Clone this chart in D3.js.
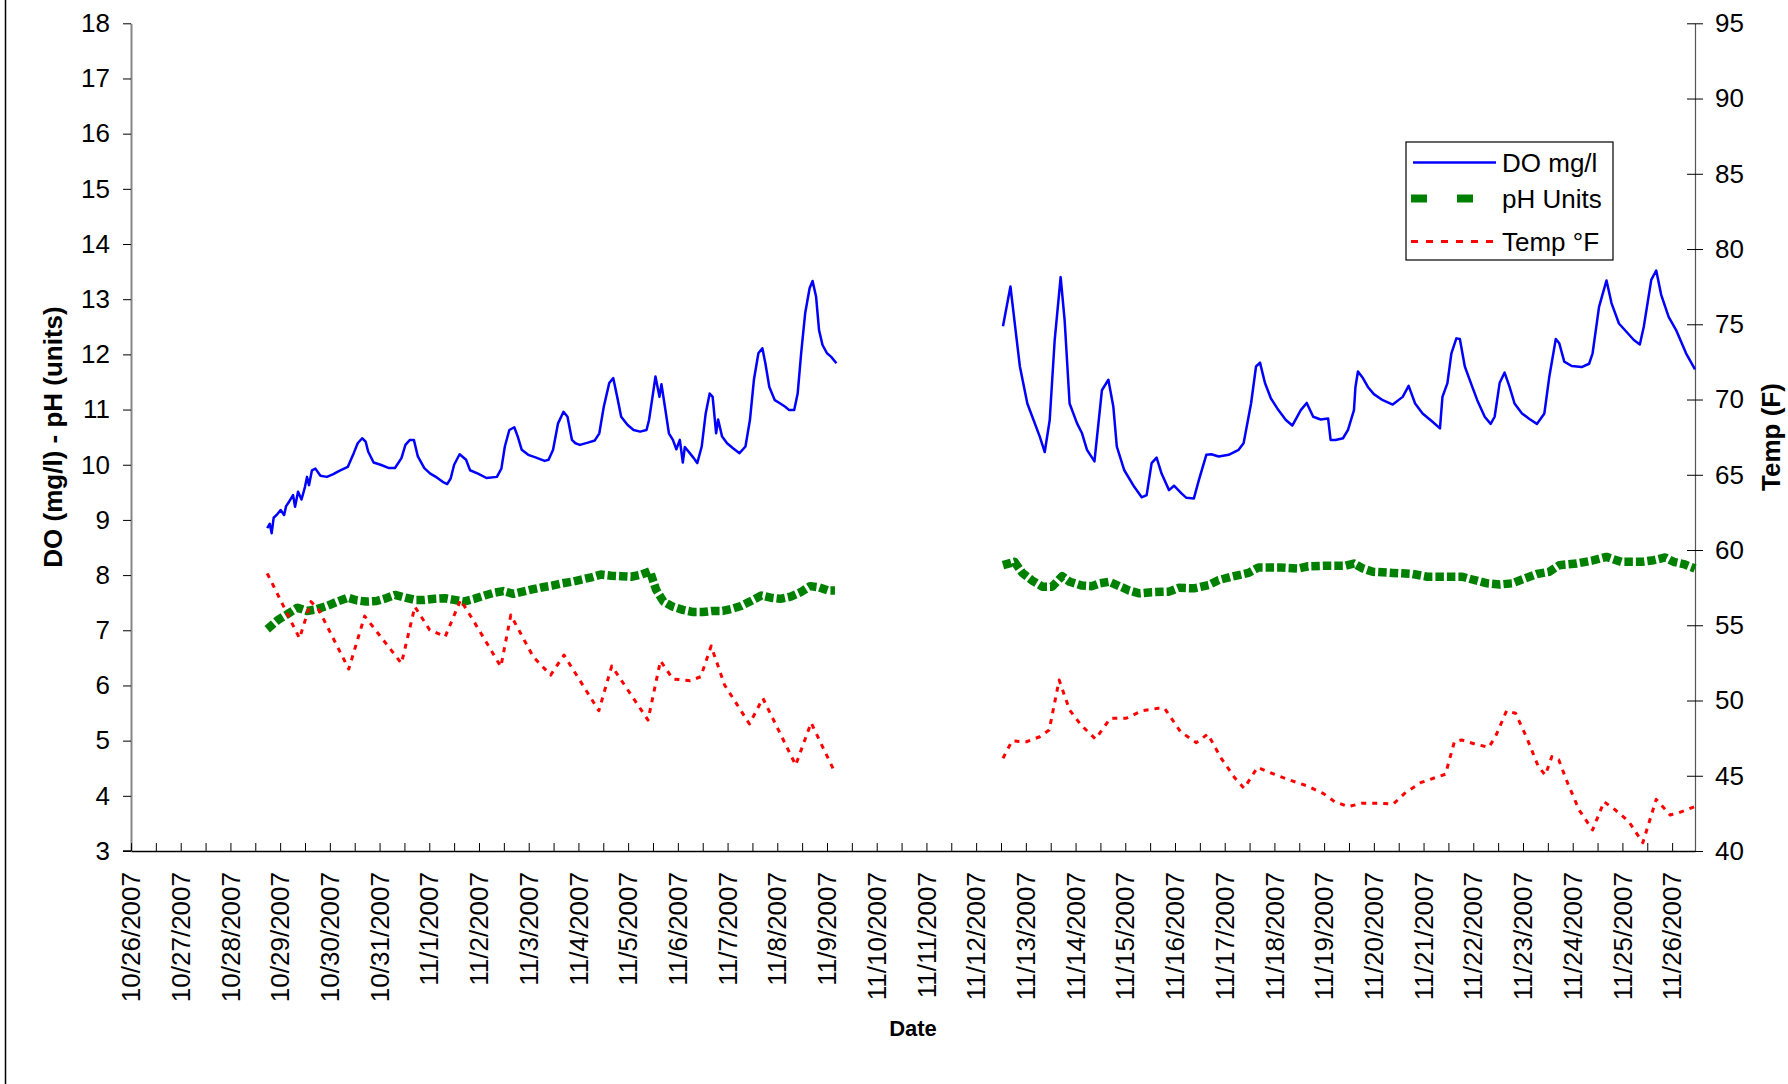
<!DOCTYPE html>
<html>
<head>
<meta charset="utf-8">
<script src="https://cdn.jsdelivr.net/npm/d3@7"></script>
<style>
body { margin: 0; background: #fff; }
svg text { font-family: "Liberation Sans", Arial, sans-serif; fill: #000; }
</style>
</head>
<body>
<script>
var w = 1788;
var h = 1084;

//Data: [days since 10/26/2007 00:00, value]
var doFirst = [
    [2.74,8.85],[2.79,8.93],[2.83,8.76],[2.87,9.04],[2.93,9.09],[3.01,9.18],[3.08,9.09],[3.12,9.25],
    [3.18,9.33],[3.26,9.45],[3.30,9.24],[3.36,9.51],[3.43,9.37],[3.50,9.60],[3.54,9.78],[3.58,9.63],
    [3.64,9.90],[3.71,9.93],[3.81,9.80],[3.94,9.78],[4.07,9.83],[4.19,9.89],[4.36,9.96],[4.48,10.21],
    [4.56,10.39],[4.65,10.48],[4.72,10.42],[4.77,10.24],[4.88,10.04],[5.02,10.00],[5.19,9.94],[5.31,9.94],
    [5.44,10.12],[5.52,10.36],[5.61,10.45],[5.69,10.45],[5.77,10.15],[5.90,9.94],[6.02,9.84],[6.15,9.77],
    [6.27,9.69],[6.36,9.65],[6.43,9.75],[6.50,10.00],[6.61,10.19],[6.74,10.09],[6.82,9.90],[6.98,9.84],
    [7.15,9.76],[7.36,9.78],[7.45,9.93],[7.52,10.33],[7.61,10.63],[7.71,10.68],[7.78,10.51],[7.86,10.27],
    [7.99,10.18],[8.15,10.13],[8.32,10.07],[8.40,10.09],[8.49,10.27],[8.59,10.75],[8.70,10.96],[8.78,10.87],
    [8.87,10.45],[8.94,10.39],[9.03,10.36],[9.19,10.40],[9.33,10.44],[9.42,10.57],[9.51,11.05],[9.62,11.48],
    [9.70,11.57],[9.78,11.23],[9.86,10.87],[9.99,10.72],[10.11,10.63],[10.24,10.60],[10.37,10.63],[10.42,10.81],
    [10.49,11.23],[10.55,11.60],[10.63,11.23],[10.67,11.46],[10.74,11.05],[10.82,10.57],[10.90,10.45],[10.97,10.28],
    [11.04,10.45],[11.10,10.04],[11.14,10.32],[11.24,10.21],[11.32,10.12],[11.39,10.03],[11.48,10.33],[11.56,10.93],
    [11.64,11.29],[11.70,11.23],[11.77,10.57],[11.81,10.82],[11.89,10.51],[11.99,10.39],[12.11,10.30],[12.24,10.21],
    [12.36,10.33],[12.45,10.81],[12.53,11.54],[12.62,12.02],[12.70,12.11],[12.76,11.84],[12.84,11.41],[12.95,11.17],
    [13.06,11.11],[13.16,11.05],[13.24,10.99],[13.34,10.99],[13.41,11.29],[13.48,12.02],[13.56,12.74],[13.65,13.20],
    [13.71,13.33],[13.78,13.05],[13.84,12.44],[13.91,12.17],[14.00,12.02],[14.08,11.96],[14.19,11.84]
];

var doSecond = [
    [17.54,12.51],[17.69,13.23],[17.84,12.08],[17.88,11.78],[18.03,11.11],[18.13,10.87],[18.28,10.51],[18.38,10.23],
    [18.48,10.81],[18.58,12.26],[18.70,13.40],[18.78,12.62],[18.88,11.11],[19.03,10.75],[19.13,10.57],[19.23,10.27],
    [19.38,10.06],[19.53,11.35],[19.66,11.54],[19.76,11.05],[19.83,10.33],[19.98,9.90],[20.18,9.60],[20.33,9.41],
    [20.43,9.45],[20.53,10.03],[20.63,10.13],[20.73,9.84],[20.88,9.54],[20.98,9.62],[21.13,9.48],[21.23,9.40],
    [21.38,9.39],[21.48,9.72],[21.63,10.18],[21.73,10.19],[21.88,10.15],[22.08,10.18],[22.28,10.27],[22.38,10.39],
    [22.53,11.11],[22.63,11.78],[22.71,11.85],[22.81,11.48],[22.93,11.20],[23.08,10.99],[23.23,10.81],[23.36,10.71],
    [23.53,10.99],[23.65,11.12],[23.78,10.87],[23.93,10.82],[24.08,10.84],[24.13,10.45],[24.23,10.45],[24.38,10.48],
    [24.48,10.63],[24.60,10.99],[24.63,11.41],[24.68,11.69],[24.78,11.57],[24.88,11.41],[25.00,11.28],[25.18,11.17],
    [25.38,11.09],[25.58,11.23],[25.70,11.43],[25.83,11.11],[25.98,10.93],[26.18,10.78],[26.33,10.66],[26.38,11.23],
    [26.48,11.48],[26.56,12.02],[26.66,12.29],[26.73,12.28],[26.83,11.78],[26.98,11.41],[27.08,11.17],[27.23,10.87],
    [27.35,10.74],[27.43,10.87],[27.53,11.48],[27.63,11.67],[27.73,11.41],[27.83,11.11],[27.98,10.93],[28.13,10.83],
    [28.28,10.74],[28.43,10.93],[28.53,11.60],[28.66,12.28],[28.73,12.20],[28.83,11.87],[28.98,11.79],[29.18,11.77],
    [29.33,11.83],[29.40,12.02],[29.53,12.86],[29.68,13.34],[29.78,12.93],[29.93,12.56],[30.08,12.41],[30.23,12.26],
    [30.35,12.18],[30.43,12.50],[30.58,13.35],[30.68,13.52],[30.78,13.08],[30.93,12.68],[31.08,12.44],[31.28,12.02],
    [31.46,11.73]
];

var phFirst = [
    [2.74,7.02],[2.96,7.19],[3.14,7.29],[3.35,7.41],[3.54,7.35],[3.73,7.38],[3.94,7.44],[4.15,7.52],
    [4.36,7.59],[4.55,7.54],[4.73,7.52],[4.94,7.53],[5.13,7.58],[5.31,7.64],[5.52,7.59],[5.72,7.55],
    [5.90,7.55],[6.11,7.57],[6.32,7.58],[6.50,7.55],[6.69,7.52],[6.90,7.57],[7.11,7.63],[7.30,7.68],
    [7.49,7.71],[7.69,7.66],[7.88,7.70],[8.07,7.74],[8.28,7.78],[8.47,7.81],[8.67,7.85],[8.87,7.88],
    [9.06,7.92],[9.26,7.96],[9.45,8.01],[9.66,7.99],[9.86,7.98],[10.06,7.97],[10.27,8.01],[10.44,8.07],
    [10.56,7.74],[10.71,7.52],[10.89,7.43],[11.10,7.37],[11.31,7.33],[11.50,7.33],[11.68,7.35],[11.90,7.35],
    [12.09,7.39],[12.27,7.44],[12.47,7.53],[12.68,7.63],[12.87,7.59],[13.06,7.57],[13.27,7.61],[13.47,7.69],
    [13.66,7.80],[13.84,7.78],[14.03,7.72],[14.16,7.72]
];

var phSecond = [
    [17.54,8.18],[17.77,8.24],[17.93,8.04],[18.13,7.90],[18.33,7.79],[18.53,7.79],[18.73,7.98],[18.88,7.88],
    [19.13,7.81],[19.33,7.80],[19.48,7.85],[19.68,7.88],[19.93,7.78],[20.08,7.72],[20.28,7.67],[20.53,7.69],
    [20.88,7.70],[21.08,7.77],[21.38,7.76],[21.68,7.82],[21.88,7.91],[22.13,7.97],[22.48,8.04],[22.68,8.14],
    [23.08,8.14],[23.48,8.12],[23.68,8.16],[24.08,8.17],[24.43,8.17],[24.60,8.21],[24.78,8.12],[24.98,8.06],
    [25.38,8.04],[25.78,8.02],[26.08,7.97],[26.78,7.97],[26.98,7.92],[27.28,7.85],[27.53,7.83],[27.78,7.85],
    [27.98,7.92],[28.28,8.02],[28.53,8.06],[28.73,8.18],[29.08,8.21],[29.38,8.26],[29.68,8.33],[29.98,8.24],
    [30.38,8.24],[30.63,8.27],[30.86,8.32],[31.03,8.24],[31.23,8.20],[31.46,8.12]
];

var tempFirst = [
    [2.74,58.45],[3.39,54.13],[3.62,56.57],[3.78,56.01],[4.38,52.09],[4.70,55.61],[5.44,52.47],[5.71,56.23],
    [6.01,54.68],[6.17,54.46],[6.32,54.24],[6.63,56.68],[6.86,55.46],[7.44,52.25],[7.64,55.68],[8.09,52.91],
    [8.44,51.69],[8.71,53.02],[9.41,49.32],[9.67,52.29],[10.40,48.70],[10.65,52.64],[10.90,51.43],[11.25,51.32],
    [11.46,51.58],[11.67,53.62],[11.94,51.03],[12.44,48.44],[12.71,50.15],[13.37,45.71],[13.68,48.52],[14.12,45.49]
];

var tempSecond = [
    [17.54,46.16],[17.72,47.31],[18.01,47.26],[18.28,47.59],[18.47,48.04],[18.67,51.36],[18.88,49.37],[19.11,48.37],
    [19.40,47.44],[19.70,48.82],[20.02,48.82],[20.34,49.32],[20.66,49.48],[20.79,49.48],[21.11,47.93],[21.43,47.20],
    [21.66,47.77],[21.93,46.16],[22.21,44.83],[22.39,44.17],[22.66,45.56],[22.98,45.12],[23.30,44.72],[23.66,44.32],
    [23.98,43.83],[24.21,43.28],[24.48,42.95],[24.76,43.17],[25.12,43.17],[25.39,43.12],[25.62,43.83],[25.94,44.54],
    [26.26,44.90],[26.44,45.10],[26.62,47.26],[26.76,47.38],[27.03,47.11],[27.31,46.89],[27.44,47.55],[27.67,49.32],
    [27.85,49.15],[28.08,47.49],[28.31,45.60],[28.45,45.05],[28.58,46.27],[28.72,46.05],[28.90,44.50],[29.13,42.72],
    [29.40,41.40],[29.63,43.28],[29.86,42.72],[30.13,41.95],[30.41,40.55],[30.68,43.43],[30.96,42.39],[31.14,42.55],
    [31.46,42.95]
];

var leftTicks = [3,4,5,6,7,8,9,10,11,12,13,14,15,16,17,18];
var rightTicks = [40,45,50,55,60,65,70,75,80,85,90,95];
var legendNames = ["DO mg/l", "pH Units", "Temp \u00B0F"];

var start = Date.UTC(2007, 9, 26);
function toDate(d) { return new Date(start + d * 864e5); }

//scales
var xScale = d3.scaleUtc()
    .domain([toDate(0), toDate(31.46)])
    .range([131, 1695]);

var yLeft = d3.scaleLinear()
    .domain([3, 18])
    .range([851, 23.3]);

var yRight = d3.scaleLinear()
    .domain([40, 95])
    .range([851, 23.3]);

var svg = d3.select("body")
    .append("svg")
    .attr("width", w)
    .attr("height", h);

//chart area border (only the left edge shows)
svg.append("line")
    .attr("x1", 5.5).attr("x2", 5.5)
    .attr("y1", 0).attr("y2", h)
    .attr("stroke", "#000")
    .attr("stroke-width", 1.5);

//left axis
var gLeft = svg.append("g")
    .attr("transform", "translate(131,0)")
    .call(d3.axisLeft(yLeft).tickValues(leftTicks).tickSize(8).tickSizeOuter(0).tickPadding(13));
gLeft.select(".domain").attr("stroke", "#868686").attr("stroke-width", 2);
gLeft.selectAll(".tick line").attr("stroke", "#000");
gLeft.selectAll("text").attr("font-size", 26).attr("font-family", null);

//right axis, ticks cross the line
var gRight = svg.append("g")
    .attr("transform", "translate(1695,0)")
    .call(d3.axisRight(yRight).tickValues(rightTicks).tickSize(8).tickSizeOuter(0).tickPadding(12));
gRight.select(".domain").attr("stroke", "#555").attr("stroke-width", 1.2);
gRight.selectAll(".tick line").attr("x1", -8).attr("x2", 8).attr("stroke", "#000");
gRight.selectAll("text").attr("font-size", 26).attr("font-family", null);

//x axis: ticks every 12 hours pointing up, labels every day
var halfDays = d3.utcHour.every(12).range(toDate(0), toDate(31.01));
var days = d3.utcDay.range(toDate(0), toDate(31.01));
var fmt = d3.utcFormat("%-m/%-d/%Y");

var gX = svg.append("g")
    .attr("transform", "translate(0,851)")
    .call(d3.axisBottom(xScale).tickValues(halfDays).tickSize(-8).tickSizeOuter(0).tickFormat(""));
gX.select(".domain").attr("stroke", "#000").attr("stroke-width", 1.5);
gX.selectAll(".tick line").attr("stroke", "#000");

svg.append("line")
    .attr("x1", 123).attr("x2", 131)
    .attr("y1", 851).attr("y2", 851)
    .attr("stroke", "#000").attr("stroke-width", 1.5);

svg.append("g")
    .selectAll("text")
    .data(days)
    .enter()
    .append("text")
    .attr("transform", function(d) {
        return "translate(" + xScale(d) + ",872) rotate(-90)";
    })
    .attr("text-anchor", "end")
    .attr("dy", "0.35em")
    .attr("font-size", 26)
    .text(function(d) { return fmt(d); });

//axis titles
svg.append("text")
    .attr("transform", "translate(53,437) rotate(-90)")
    .attr("text-anchor", "middle")
    .attr("dy", "0.35em")
    .attr("font-size", 26)
    .attr("font-weight", "bold")
    .text("DO (mg/l) - pH (units)");

svg.append("text")
    .attr("transform", "translate(1771,437) rotate(-90)")
    .attr("text-anchor", "middle")
    .attr("dy", "0.35em")
    .attr("font-size", 26)
    .attr("font-weight", "bold")
    .text("Temp (F)");

svg.append("text")
    .attr("x", 913)
    .attr("y", 1036)
    .attr("text-anchor", "middle")
    .attr("font-size", 22)
    .attr("font-weight", "bold")
    .text("Date");

//lines
var lineLeft = d3.line()
    .x(function(d) { return xScale(toDate(d[0])); })
    .y(function(d) { return yLeft(d[1]); });

var lineRight = d3.line()
    .x(function(d) { return xScale(toDate(d[0])); })
    .y(function(d) { return yRight(d[1]); });

var series = [
    { data: [doFirst, doSecond], line: lineLeft, color: "#0000FF", width: 2.5, dash: null },
    { data: [phFirst, phSecond], line: lineLeft, color: "#008000", width: 8.5, dash: "8.5,3" },
    { data: [tempFirst, tempSecond], line: lineRight, color: "#FF0000", width: 3, dash: "5,6" }
];

series.forEach(function(s) {
    svg.append("g")
        .selectAll("path")
        .data(s.data)
        .enter()
        .append("path")
        .attr("d", function(d) { return s.line(d); })
        .attr("fill", "none")
        .attr("stroke", s.color)
        .attr("stroke-width", s.width)
        .attr("stroke-dasharray", s.dash)
        .attr("stroke-linejoin", "round");
});

//legend
var legend = svg.append("g");
legend.append("rect")
    .attr("x", 1406).attr("y", 142)
    .attr("width", 207).attr("height", 118)
    .attr("fill", "#fff")
    .attr("stroke", "#000")
    .attr("stroke-width", 1.2);

var legendY = [162.5, 198.5, 241.5];
var legendStyle = [
    { color: "#0000FF", width: 2.5, dash: null, x1: 1413 },
    { color: "#008000", width: 8, dash: "16,30", x1: 1411 },
    { color: "#FF0000", width: 3, dash: "7,8", x1: 1411 }
];

legendNames.forEach(function(name, i) {
    legend.append("line")
        .attr("x1", legendStyle[i].x1).attr("x2", 1496)
        .attr("y1", legendY[i]).attr("y2", legendY[i])
        .attr("stroke", legendStyle[i].color)
        .attr("stroke-width", legendStyle[i].width)
        .attr("stroke-dasharray", legendStyle[i].dash);
    legend.append("text")
        .attr("x", 1502)
        .attr("y", legendY[i] + 9.3)
        .attr("font-size", 26)
        .text(name);
});
</script>
</body>
</html>
